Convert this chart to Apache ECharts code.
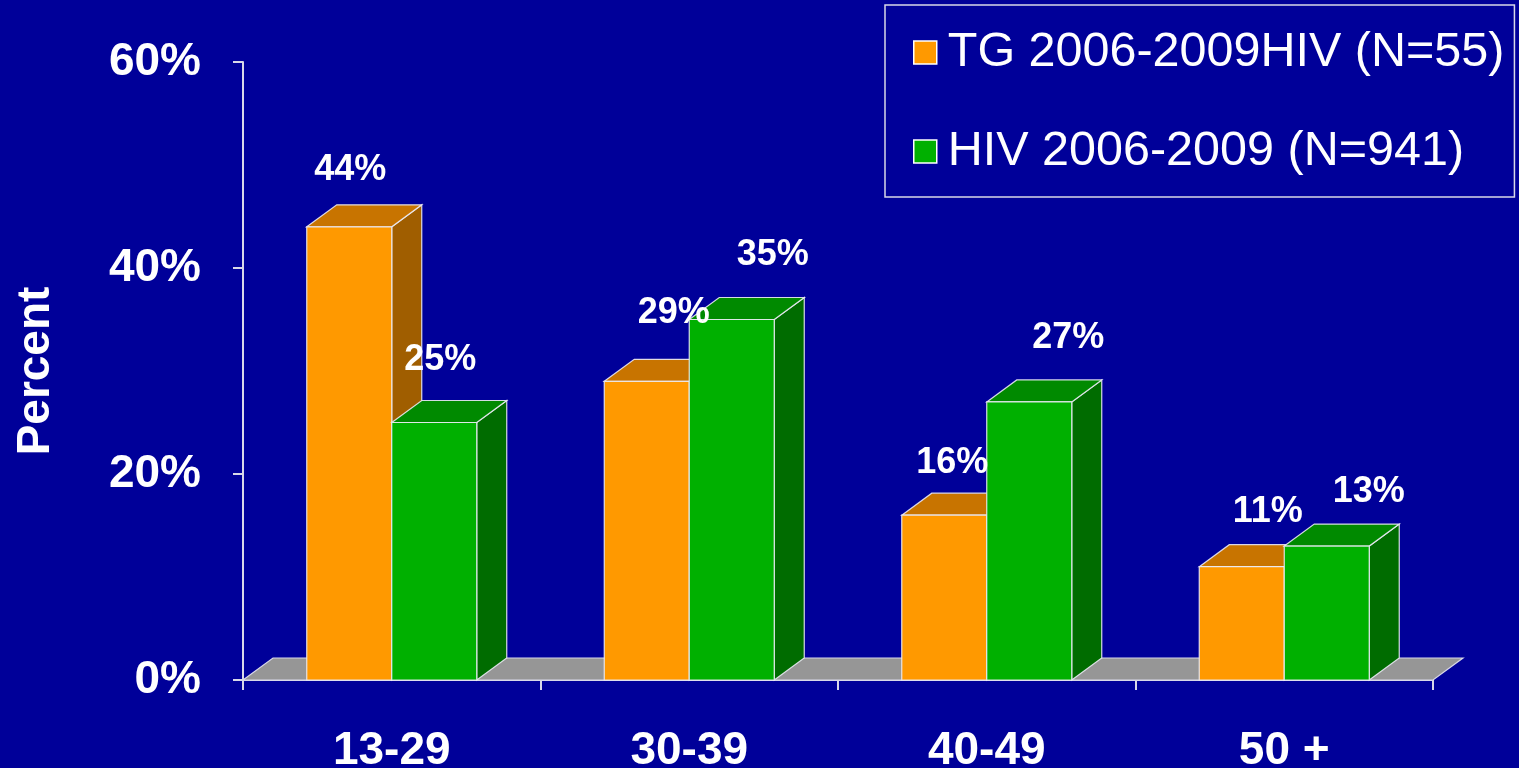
<!DOCTYPE html>
<html><head><meta charset="utf-8">
<script src="https://cdn.jsdelivr.net/npm/echarts@6/dist/echarts.min.js"></script>
<style>html,body{margin:0;padding:0;background:#000099}#c{width:1519px;height:768px}</style>
</head><body><div id="c"></div>
<script>
const categories = ['13-29', '30-39', '40-49', '50 +'];
const tgValues = [44, 29, 16, 11];
const hivValues = [25, 35, 27, 13];
const seriesNames = ['TG 2006-2009HIV (N=55)', 'HIV 2006-2009 (N=941)'];
const yMin = 0, yMax = 60, yStep = 20;

// layout / style (not data)
const FONT = '"Liberation Sans", Arial, sans-serif';
const DX = 30, DY = 22;           // 3D depth offset in px
const EDGE = 'rgba(235,235,245,0.9)';
const palette = [
  { front: '#FF9900', top: '#C87400', side: '#A05E00' },
  { front: '#00B000', top: '#008A00', side: '#006C00' }
];
// label offsets relative to top-front centre of each bar (px)
const labelShift = [
  [[1, -57], [27, -68], [8, -52], [26, -55]],
  [[6, -62], [41, -64], [39, -64], [42, -54]]
];

const chart = echarts.init(document.getElementById('c'), null, { renderer: 'canvas' });

function barGeom(api, sIdx) {
  const cat = api.value(0), val = api.value(1);
  const base = api.coord([cat, 0]);
  const top = api.coord([cat, val]);
  const band = api.size([1, 0])[0];
  const w = band * 0.2857;
  const x0 = base[0] - w + sIdx * w;
  return { x0: x0, x1: x0 + w, yb: base[1], yt: top[1], w: w };
}

function barRenderer(sIdx) {
  const c = palette[sIdx];
  return function (params, api) {
    const g = barGeom(api, sIdx);
    const st = (fill) => ({ fill: fill, stroke: EDGE, lineWidth: 1.2 });
    return {
      type: 'group',
      children: [
        { type: 'polygon', shape: { points: [[g.x1, g.yb], [g.x1 + DX, g.yb - DY], [g.x1 + DX, g.yt - DY], [g.x1, g.yt]] }, style: st(c.side) },
        { type: 'polygon', shape: { points: [[g.x0, g.yt], [g.x0 + DX, g.yt - DY], [g.x1 + DX, g.yt - DY], [g.x1, g.yt]] }, style: st(c.top) },
        { type: 'rect', shape: { x: g.x0, y: g.yt, width: g.w, height: g.yb - g.yt }, style: st(c.front) }
      ]
    };
  };
}

const labelData = [];
tgValues.forEach((v, i) => labelData.push([i, v, 0]));
hivValues.forEach((v, i) => labelData.push([i, v, 1]));

const option = {
  backgroundColor: '#000099',
  animation: false,
  grid: { left: 243, right: 86, top: 62, bottom: 88, containLabel: false, outerBoundsMode: 'none' },
  legend: {
    orient: 'vertical',
    left: 885, top: 5,
    padding: [23, 10, 21, 28],
    itemGap: 50,
    itemWidth: 23, itemHeight: 23,
    itemTextGap: 12,
    icon: 'rect',
    borderColor: '#d8d8e8', borderWidth: 1.5,
    itemStyle: { borderColor: '#ffffff', borderWidth: 1.5 },
    textStyle: { color: '#ffffff', fontSize: 48.5, fontFamily: FONT, lineHeight: 48, padding: [0, 0, 0, 6] },
    data: seriesNames
  },
  xAxis: {
    type: 'category',
    data: categories,
    axisLine: { lineStyle: { color: '#d8d8e8', width: 2 } },
    axisTick: { show: true, length: 10, alignWithLabel: false, lineStyle: { color: '#d8d8e8', width: 2 } },
    axisLabel: { color: '#ffffff', fontSize: 46, fontWeight: 'bold', fontFamily: FONT, margin: 48 },
    splitLine: { show: false }
  },
  yAxis: {
    type: 'value',
    min: yMin, max: yMax, interval: yStep,
    name: 'Percent',
    nameLocation: 'middle',
    nameRotate: 90,
    nameGap: 184,
    nameTextStyle: { color: '#ffffff', fontSize: 46, fontWeight: 'bold', fontFamily: FONT },
    axisLine: { show: true, lineStyle: { color: '#d8d8e8', width: 2 } },
    axisTick: { show: true, length: 10, lineStyle: { color: '#d8d8e8', width: 2 } },
    axisLabel: { color: '#ffffff', fontSize: 46, fontWeight: 'bold', fontFamily: FONT, margin: 42, formatter: '{value}%' },
    splitLine: { show: false }
  },
  series: [
    {
      name: 'floor', type: 'custom', z: 1, silent: true,
      data: [[0, 0]],
      renderItem: function (params, api) {
        const cs = params.coordSys;
        const yb = cs.y + cs.height;
        return {
          type: 'polygon',
          shape: { points: [[cs.x, yb], [cs.x + DX, yb - DY], [cs.x + cs.width + DX, yb - DY], [cs.x + cs.width, yb]] },
          style: { fill: '#969696', stroke: '#d8d8e8', lineWidth: 1.2 }
        };
      }
    },
    {
      name: seriesNames[0], type: 'custom', z: 2,
      itemStyle: { color: palette[0].front },
      encode: { x: 0, y: 1 },
      data: tgValues.map((v, i) => [i, v]),
      renderItem: barRenderer(0)
    },
    {
      name: seriesNames[1], type: 'custom', z: 3,
      itemStyle: { color: palette[1].front },
      encode: { x: 0, y: 1 },
      data: hivValues.map((v, i) => [i, v]),
      renderItem: barRenderer(1)
    },
    {
      name: 'labels', type: 'custom', z: 5, silent: true,
      encode: { x: 0, y: 1 },
      data: labelData,
      renderItem: function (params, api) {
        const sIdx = api.value(2);
        const cat = api.value(0);
        const g = barGeom(api, sIdx);
        const sh = labelShift[sIdx][cat];
        return {
          type: 'text',
          style: {
            text: api.value(1) + '%',
            x: (g.x0 + g.x1) / 2 + sh[0],
            y: g.yt + sh[1],
            align: 'center', verticalAlign: 'middle',
            fill: '#ffffff',
            font: 'bold 36px ' + FONT
          }
        };
      }
    }
  ]
};
chart.setOption(option);
</script>
</body></html>
